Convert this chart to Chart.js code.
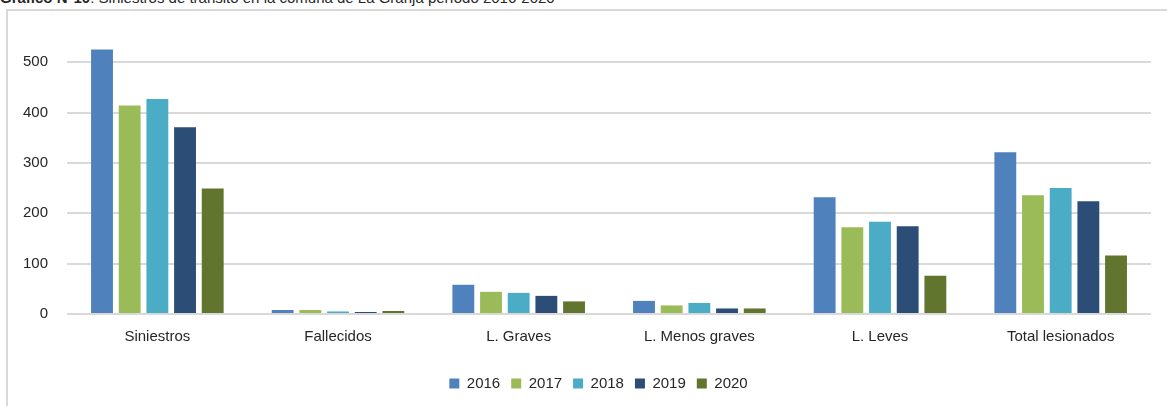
<!DOCTYPE html>
<html>
<head>
<meta charset="utf-8">
<script src="https://cdn.jsdelivr.net/npm/chart.js@4"></script>
<style>
  body { margin: 0; background: #fff; width: 1167px; height: 406px; overflow: hidden; position: relative; font-family: "Liberation Sans", Arial, sans-serif; }
  #titulo { position: absolute; left: 0; top: -10px; font-size: 15px; line-height: 16px; color: #262626; white-space: nowrap; }
  #marco { position: absolute; left: 6px; top: 9px; width: 1200px; height: 420px; border-left: 2px solid #d9d9d9; border-top: 2px solid #d9d9d9; }
  #wrap { position: absolute; left: 0; top: 0; width: 1167px; height: 406px; }
</style>
</head>
<body>
<div id="titulo"><b>Gráfico N°10</b>: Siniestros de tránsito en la comuna de La Granja período 2016-2020</div>
<div id="marco"></div>
<div id="wrap"><canvas id="siniestrosChart"></canvas></div>
<script>
// Categorías y valores por año
const categorias = ["Siniestros", "Fallecidos", "L. Graves", "L. Menos graves", "L. Leves", "Total lesionados"];
const anios = ["2016", "2017", "2018", "2019", "2020"];

const datos2016 = [525, 8, 58, 26, 232, 321];
const datos2017 = [414, 8, 44, 17, 172, 236];
const datos2018 = [427, 5, 42, 22, 183, 250];
const datos2019 = [371, 4, 36, 11, 174, 224];
const datos2020 = [249, 6, 25, 11, 76, 116];

const colores = ["#4f81bd", "#9bbb59", "#4bacc6", "#2c4d75", "#62752f"];
const series = [datos2016, datos2017, datos2018, datos2019, datos2020];

// corre la leyenda un poco a la derecha
const moverLeyenda = {
  id: "moverLeyenda",
  afterLayout(chart) {
    chart.legend.left += 21;
    chart.legend.right += 21;
  },
};

const ctx = document.getElementById("siniestrosChart").getContext("2d");

new Chart(ctx, {
  type: "bar",
  data: {
    labels: categorias,
    datasets: anios.map((anio, i) => ({
      label: anio,
      data: series[i],
      backgroundColor: colores[i],
      borderWidth: 0,
      categoryPercentage: 0.766,
      barPercentage: 0.79,
    })),
  },
  options: {
    responsive: true,
    maintainAspectRatio: false,
    animation: false,
    layout: {
      padding: { left: 4, right: 16, top: 42, bottom: 5 },
    },
    scales: {
      y: {
        min: 0,
        max: 540,
        border: { display: false },
        grid: { color: "#d9d9d9", lineWidth: 2, drawTicks: false },
        ticks: { stepSize: 100, padding: 19, color: "#262626", font: { size: 15, family: "Liberation Sans" } },
        // solo las marcas de 100 en 100
        afterBuildTicks: (scale) => {
          scale.ticks = scale.ticks.filter((t) => t.value % 100 === 0);
        },
      },
      x: {
        border: { display: false },
        grid: { display: false, drawTicks: false },
        ticks: { padding: 14, color: "#262626", font: { size: 15, family: "Liberation Sans" } },
        afterFit: (scale) => {
          scale.height += 5;
        },
      },
    },
    plugins: {
      legend: {
        position: "bottom",
        labels: {
          boxWidth: 10,
          boxHeight: 10,
          padding: 11,
          color: "#262626",
          font: { size: 15, family: "Liberation Sans" },
        },
      },
      tooltip: { enabled: false },
    },
  },
  plugins: [moverLeyenda],
});
</script>
</body>
</html>
